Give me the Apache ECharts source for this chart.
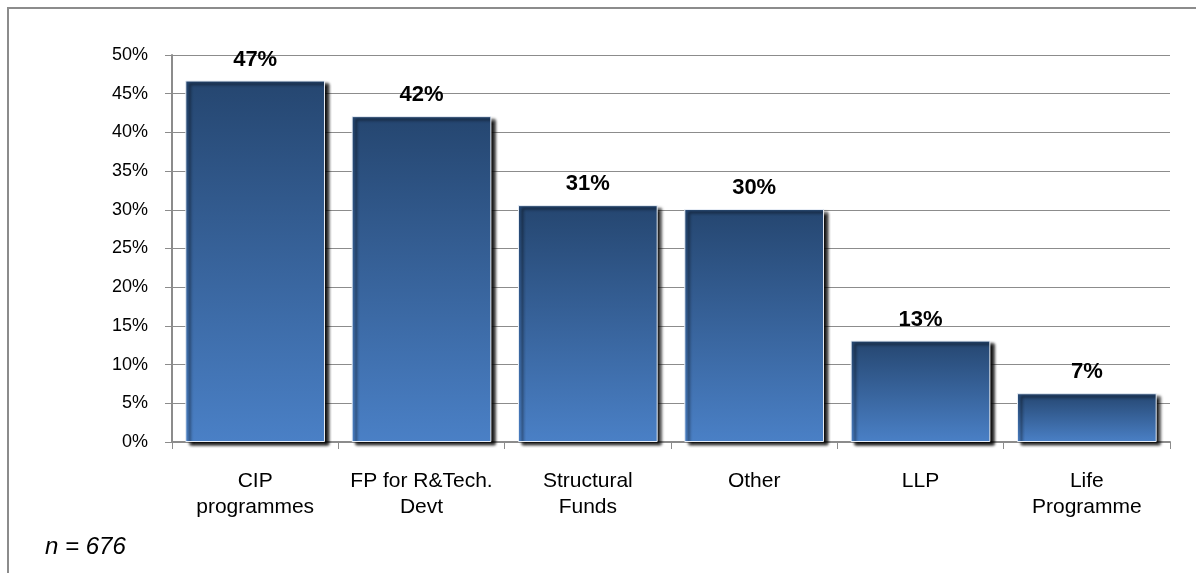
<!DOCTYPE html>
<html>
<head>
<meta charset="utf-8">
<script src="https://cdn.jsdelivr.net/npm/echarts@6/dist/echarts.min.js"></script>
<style>
	html, body { margin: 0; padding: 0; background: #fff; }
	#grafico { width: 1196px; height: 573px; }
</style>
</head>
<body>
<div id="grafico"></div>
<script>
const categorias = ['CIP\nprogrammes', 'FP for R&Tech.\nDevt', 'Structural\nFunds', 'Other', 'LLP', 'Life\nProgramme']
const valores = [46.7, 42.1, 30.6, 30.1, 13.1, 6.3]
const rotulos = ['47%', '42%', '31%', '30%', '13%', '7%']
const amostra = 'n = 676'

const myChart = echarts.init(document.getElementById('grafico'))

myChart.setOption({
	animation: false,
	textStyle: { fontFamily: 'Liberation Sans, Arial, sans-serif' },
	grid: { left: 172, right: 26, top: 55, bottom: 131 },
	graphic: [
		{
			type: 'polyline',
			shape: { points: [[8, 580], [8, 8], [1200, 8]] },
			style: { stroke: '#8c8c8c', lineWidth: 2, fill: null }
		},
		{
			type: 'text',
			left: 45, top: 535,
			style: { text: amostra, font: 'italic 24px "Liberation Sans", Arial', fill: '#000' }
		}
	],
	xAxis: {
		type: 'category',
		data: categorias,
		axisLine: { lineStyle: { color: '#8c8c8c', width: 2 } },
		axisTick: { show: true, interval: 0, length: 7, lineStyle: { color: '#8c8c8c', width: 1 } },
		axisLabel: { interval: 0, hideOverlap: false, color: '#000', fontSize: 21, lineHeight: 26, margin: 26 }
	},
	yAxis: {
		type: 'value',
		min: 0, max: 50, interval: 5,
		axisLine: { show: true, lineStyle: { color: '#8c8c8c', width: 2 } },
		axisTick: { show: true, length: 7, lineStyle: { color: '#8c8c8c' } },
		splitLine: { lineStyle: { color: '#8c8c8c', width: 1 } },
		axisLabel: { color: '#000', fontSize: 18, margin: 24, formatter: '{value}%' }
	},
	series: [
		{
			type: 'bar',
			data: valores,
			barCategoryGap: '16%',
			itemStyle: {
				color: new echarts.graphic.LinearGradient(0, 0, 0, 1, [
					{ offset: 0, color: '#254670' },
					{ offset: 1, color: '#4a80c6' }
				]),
				borderColor: '#e8eef6',
				borderWidth: 1,
				shadowColor: 'rgba(0,0,0,0.95)',
				shadowBlur: 3,
				shadowOffsetX: 4,
				shadowOffsetY: 3
			},
			label: {
				show: true,
				position: 'top',
				distance: 10,
				color: '#000',
				fontSize: 22,
				fontWeight: 'bold',
				formatter: (p) => rotulos[p.dataIndex]
			}
		}
	]
})
</script>
</body>
</html>
